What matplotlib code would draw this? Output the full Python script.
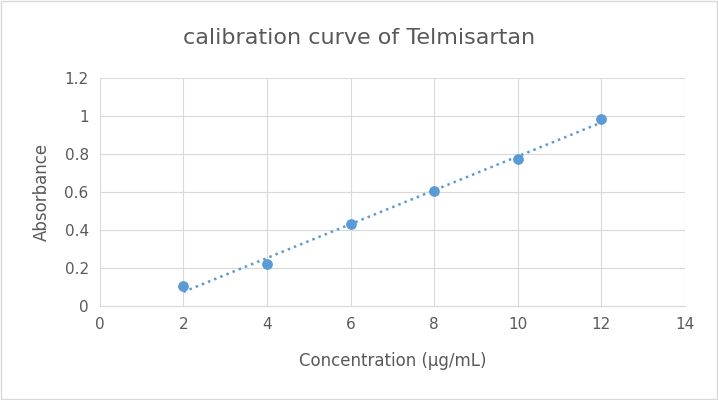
import matplotlib.pyplot as plt
import numpy as np

# data
conc = [2, 4, 6, 8, 10, 12]
absorb = [0.105, 0.22, 0.43, 0.605, 0.775, 0.985]

fig = plt.figure(figsize=(7.18, 4.0), dpi=100)
ax = fig.add_axes([0.139, 0.235, 0.815, 0.57])

# linear trendline
k, b = np.polyfit(conc, absorb, 1)
xs = np.array([conc[0], conc[-1]])
ax.plot(xs, k * xs + b, linestyle=':', color='#5B9BD5', linewidth=1.8)
ax.scatter(conc, absorb, color='#5B9BD5', s=45, zorder=3)

ax.set_xlim(0, 14)
ax.set_ylim(0, 1.2)
ax.set_xticks(range(0, 15, 2))
ax.set_yticks([0, 0.2, 0.4, 0.6, 0.8, 1, 1.2])
ax.set_yticklabels(['0', '0.2', '0.4', '0.6', '0.8', '1', '1.2'])
ax.grid(True, color='#D9D9D9', linewidth=0.8)
ax.set_axisbelow(True)
for s in ['top', 'right', 'left']:
    ax.spines[s].set_visible(False)
ax.spines['bottom'].set_color('#D9D9D9')
ax.tick_params(length=0, labelsize=11, colors='#595959', pad=8)

ax.set_xlabel('Concentration (µg/mL)', fontsize=12, color='#595959', labelpad=14)
ax.set_ylabel('Absorbance', fontsize=12, color='#595959', labelpad=10)
fig.text(0.5, 0.905, 'calibration curve of Telmisartan', ha='center', va='center',
         fontsize=16, color='#595959')

fig.patches.append(plt.Rectangle((0.001, 0.002), 0.997, 0.995, transform=fig.transFigure,
                                 fill=False, edgecolor='#D9D9D9', linewidth=1))
fig.savefig('out.png', dpi=100)
